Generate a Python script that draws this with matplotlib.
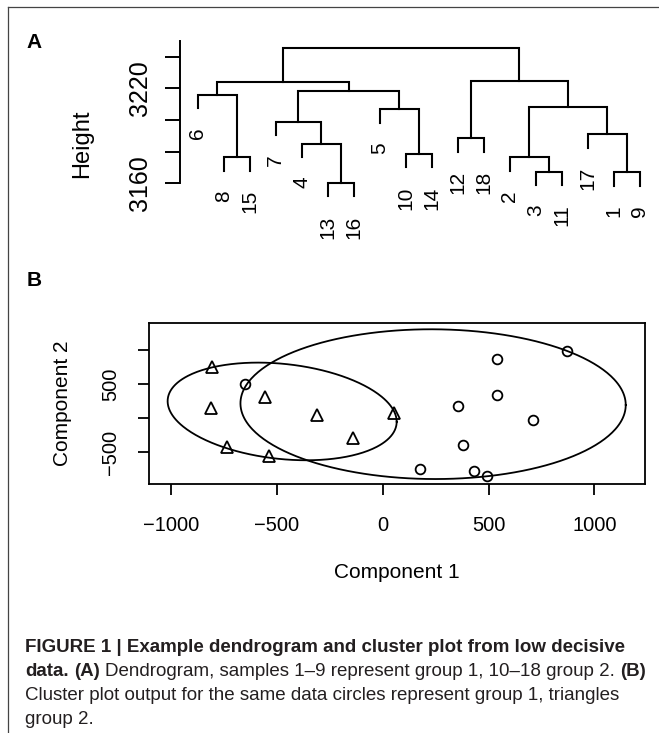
import numpy as np
import matplotlib
matplotlib.use('Agg')
import matplotlib.pyplot as plt
from matplotlib.lines import Line2D

W, H = 659, 733

# hclust result: leaf order, merge table (negative = sample, positive = earlier merge)
leaf_order = [6, 8, 15, 7, 4, 13, 16, 5, 10, 14, 12, 18, 2, 3, 11, 17, 1, 9]
merge_a = [-13, -1, -3, -8, -2, -10, -4, -12, -17, -7, -5, 5, -6, 10, 13, 8, 15]
merge_b = [-16, -9, -11, -15, 3, -14, 1, -18, 2, 7, 6, 9, 4, 11, 14, 12, 16]
merge_height = [3160.3, 3167.0, 3167.3, 3176.5, 3176.5, 3178.5, 3184.9, 3188.5, 3191.0,
                3199.0, 3206.8, 3208.5, 3215.9, 3218.4, 3223.9, 3224.7, 3245.4]
height_ticks = [3160, 3180, 3200, 3220, 3240]
height_ticklabels = ['3160', '', '', '3220', '']

# cluster plot (first two components)
tri_c1 = [-805, -811, -737, -536, -556, -309, -142, 54]
tri_c2 = [759, 147, -426, -554, 318, 49, -285, 82]
circ_c1 = [-650, 869, 541, 538, 357, 708, 377, 176, 431, 494]
circ_c2 = [500, 990, 867, 343, 181, -25, -393, -750, -770, -844]
ell_center = [(-475, 101), (238, 208)]
ell_cov = [[[541 ** 2, -81700], [-81700, 718 ** 2]],
           [[910 ** 2, -11000], [-11000, 1101 ** 2]]]
c1_ticks = [-1000, -500, 0, 500, 1000]
c1_ticklabels = ['\u22121000', '\u2212500', '0', '500', '1000']
c2_ticks = [-500, 0, 500, 1000]
c2_ticklabels = ['\u2212500', '', '500', '']

plt.rcParams['font.family'] = ['Liberation Sans', 'DejaVu Sans']

fig = plt.figure(figsize=(W / 100, H / 100), dpi=100)


def fx(x):
    return x / W


def fy(y):
    return 1 - y / H


# panel frame lines
fig.add_artist(Line2D([fx(8), fx(8)], [0, fy(7)], color='#444444', lw=0.9))
fig.add_artist(Line2D([fx(8), 1], [fy(7), fy(7)], color='#444444', lw=0.9))

fig.text(fx(34), fy(42.5), 'A', fontsize=15, fontweight='bold', ha='center', va='center')
fig.text(fx(34), fy(281), 'B', fontsize=15, fontweight='bold', ha='center', va='center')

# ---- dendrogram ----
ax = fig.add_axes([fx(180), fy(247), (650 - 180) / W, (247 - 41) / H])
ax.set_xlim(0.319, 18.396)
ax.set_ylim(3119.7, 3250.0)
for s in ['top', 'right', 'bottom']:
    ax.spines[s].set_visible(False)
ax.spines['left'].set_bounds(3160, 3250)
ax.spines['left'].set_linewidth(1.4)
ax.set_xticks([])
ax.set_yticks(height_ticks)
ax.set_yticklabels(height_ticklabels, rotation=90, va='center')
ax.tick_params(axis='y', length=10.8, width=1.4, labelsize=18, pad=9)

leaf_x = {leaf: i + 1 for i, leaf in enumerate(leaf_order)}
hang = 0.1 * (max(merge_height) - min(merge_height))
node_x = []
leaf_end = {}
for i, (a, b) in enumerate(zip(merge_a, merge_b)):
    h = merge_height[i]
    pts = []
    for c in (a, b):
        if c < 0:
            cx, ch = leaf_x[-c], h - hang
            leaf_end[-c] = ch
        else:
            cx, ch = node_x[c - 1], merge_height[c - 1]
        pts.append((cx, ch))
    (xa, ha), (xb, hb) = pts
    ax.plot([xa, xa, xb, xb], [ha, h, h, hb], color='black', lw=1.5,
            solid_joinstyle='miter', clip_on=False)
    node_x.append((xa + xb) / 2)

for leaf in leaf_order:
    ax.annotate(str(leaf), (leaf_x[leaf], leaf_end[leaf]), xytext=(0, -14),
                textcoords='offset points', rotation=90, ha='center', va='top',
                fontsize=15, annotation_clip=False)

fig.text(fx(81.7), fy(144), 'Height', rotation=90, fontsize=17, ha='center', va='center')

# ---- cluster plot ----
bx = fig.add_axes([fx(149), fy(484), (645 - 149) / W, (484 - 323.3) / H])
bx.set_xlim(-1104, 1239)
bx.set_ylim(-966, 1397)
for s in bx.spines.values():
    s.set_linewidth(1.3)
bx.set_xticks(c1_ticks)
bx.set_xticklabels(c1_ticklabels)
bx.set_yticks(c2_ticks)
bx.set_yticklabels(c2_ticklabels, rotation=90, va='center')
bx.tick_params(length=8, width=1.3, labelsize=14.5)
bx.tick_params(axis='x', pad=15)
bx.tick_params(axis='y', pad=13)

t = np.linspace(0, 2 * np.pi, 400)
for c, cov in zip(ell_center, ell_cov):
    L = np.linalg.cholesky(np.array(cov, dtype=float))
    pts = L @ np.vstack([np.cos(t), np.sin(t)])
    bx.plot(c[0] + pts[0], c[1] + pts[1], color='black', lw=1.3)

bx.plot(tri_c1, tri_c2, ls='none', marker='^', ms=9, mfc='none', mec='black', mew=1.3)
bx.plot(circ_c1, circ_c2, ls='none', marker='o', ms=7, mfc='none', mec='black', mew=1.3)

fig.text(fx(63), fy(403.5), 'Component 2', rotation=90, fontsize=15, ha='center', va='center')
fig.text(fx(397), fy(573), 'Component 1', fontsize=15, ha='center', va='center')

# ---- caption ----
cap_size = 13.5
renderer = fig.canvas.get_renderer()


def text_width(s, weight):
    tt = fig.text(0, 0, s, fontsize=cap_size, fontweight=weight)
    w = tt.get_window_extent(renderer).width
    tt.remove()
    return w


space_w = text_width('x x', 'normal') - text_width('xx', 'normal')

caption = [
    [('FIGURE 1 | Example dendrogram and cluster plot from low decisive', 'bold')],
    [('data.', 'bold'), ('(A)', 'bold'), ('Dendrogram, samples 1\u20139 represent group 1, 10\u201318 group 2.', 'normal'),
     ('(B)', 'bold')],
    [('Cluster plot output for the same data circles represent group 1, triangles', 'normal')],
    [('group 2.', 'normal')],
]
baselines = [652, 676, 700, 724]
for runs, yb in zip(caption, baselines):
    x = 25
    for s, weight in runs:
        fig.text(fx(x), fy(yb), s, fontsize=cap_size, fontweight=weight,
                 ha='left', va='baseline', color='#231f20')
        x += text_width(s, weight) + space_w

fig.savefig('out.png', dpi=100)
